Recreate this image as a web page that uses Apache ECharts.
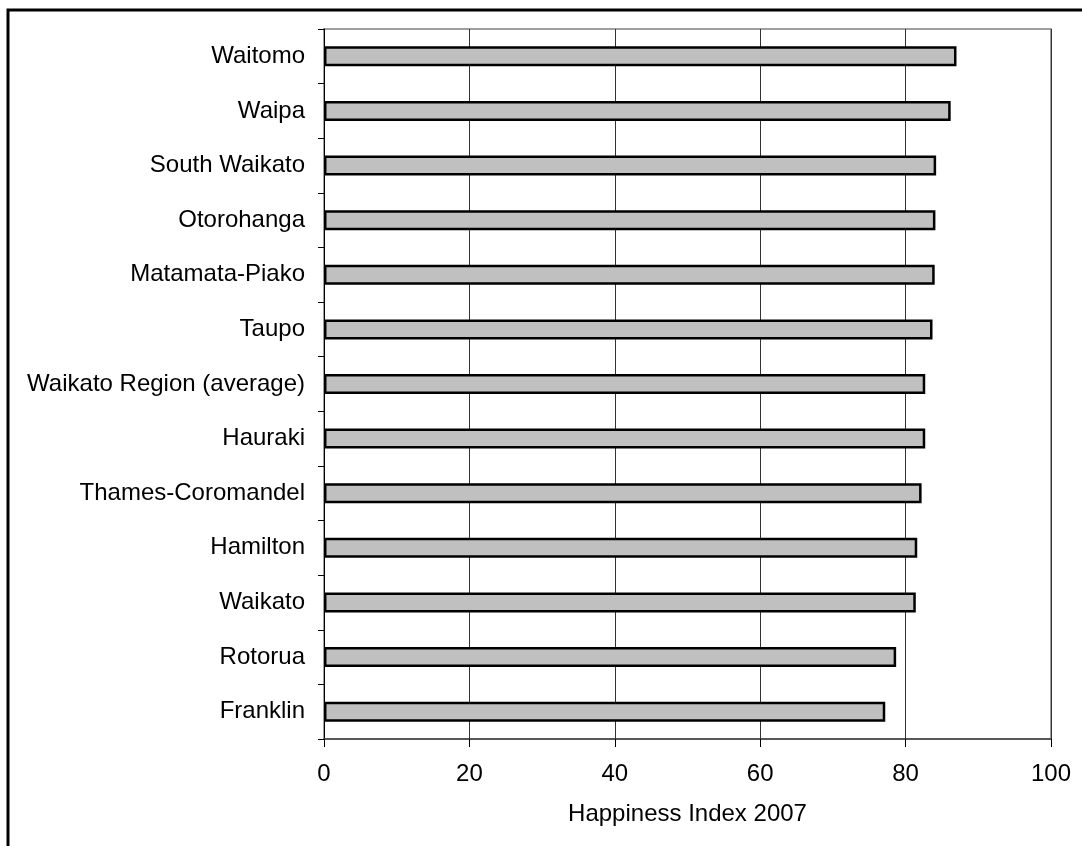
<!DOCTYPE html>
<html>
<head>
<meta charset="utf-8">
<script src="https://cdn.jsdelivr.net/npm/echarts@6/dist/echarts.min.js"></script>
<style>
html,body{margin:0;padding:0;background:#fff;}
#chart{width:1082px;height:846px;}
</style>
</head>
<body>
<div id="chart"></div>
<script>
// Categories listed bottom to top (category axis starts at bottom)
const categories = ["Franklin","Rotorua","Waikato","Hamilton","Thames-Coromandel","Hauraki","Waikato Region (average)","Taupo","Matamata-Piako","Otorohanga","South Waikato","Waipa","Waitomo"];
const happinessValues = [77.2,78.7,81.4,81.6,82.2,82.7,82.7,83.7,84.0,84.1,84.2,86.2,87.0];
const xTicks = [0,20,40,60,80,100];
const axisTitle = "Happiness Index 2007";

const FONT = "'Liberation Sans', Arial, sans-serif";
const chart = echarts.init(document.getElementById('chart'), null, {renderer:'canvas'});
chart.setOption({
  animation:false,
  backgroundColor:'#ffffff',
  graphic:[{
    type:'rect', shape:{x:8,y:10,width:1200,height:1000},
    style:{fill:'none',stroke:'#000',lineWidth:3}, silent:true, z:100
  }],
  grid:{left:324,right:31,top:29,bottom:107,show:true,borderColor:'#808080',borderWidth:1.5,backgroundColor:'transparent'},
  xAxis:{
    type:'value', min:xTicks[0], max:xTicks[xTicks.length-1], interval:20,
    name:axisTitle, nameLocation:'middle', nameGap:63,
    nameTextStyle:{fontFamily:FONT,fontSize:24,color:'#000'},
    axisLine:{show:true,lineStyle:{color:'#404040',width:1.5}},
    axisTick:{show:true,length:8,lineStyle:{color:'#000',width:1}},
    axisLabel:{fontFamily:FONT,fontSize:24,color:'#000',margin:23},
    splitLine:{show:true,lineStyle:{color:'#333',width:1}}
  },
  yAxis:{
    type:'category', data:categories,
    axisLine:{show:true,lineStyle:{color:'#000',width:1}},
    axisTick:{show:true,length:6,alignWithLabel:false,lineStyle:{color:'#000',width:1}},
    axisLabel:{fontFamily:FONT,fontSize:24,color:'#000',margin:19},
    splitLine:{show:false}
  },
  series:[{
    type:'bar', data:happinessValues, barWidth:20,
    itemStyle:{color:'#c0c0c0',borderColor:'#000',borderWidth:2.5},
    z:3
  }]
});
</script>
</body>
</html>
